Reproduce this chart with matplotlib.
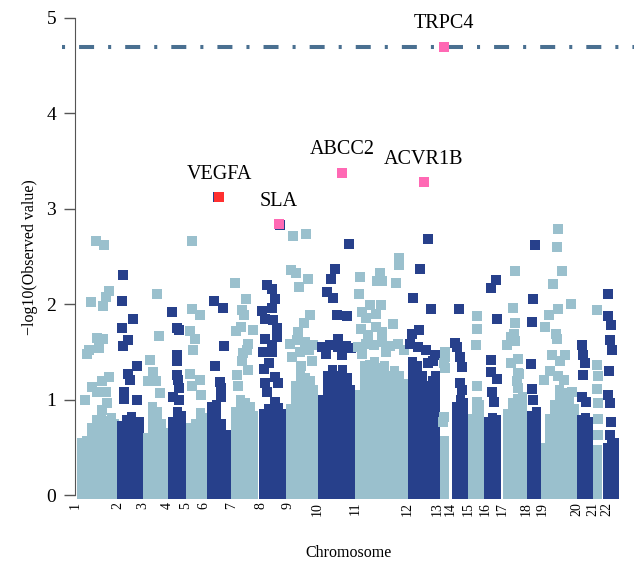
# Manhattan plot, -log10(p) por cromosoma
import numpy as np
import matplotlib
matplotlib.use('Agg')
import matplotlib.pyplot as plt

plt.rcParams['font.family'] = ['Liberation Serif', 'DejaVu Serif']
plt.rcParams['lines.scale_dashes'] = False

chroms = [str(i) for i in range(1, 23)]
chrom_start = [0, 43, 68, 92, 111, 129, 157, 186, 213, 242, 280,
               332, 362, 375, 393, 410, 427, 451, 467, 502, 518, 532]

# SNPs sueltos: posicion dentro del cromosoma y -log10(p)
snp_pos = [
    [21, 29, 34, 31, 16, 28, 22, 28, 24, 14, 12, 34, 27, 17, 22, 31, 10, 32, 27],
    [5, 4, 15, 4, 10, 5, 19, 10, 12, 6, 6, 19],
    [14, 16, 7, 10, 13, 17, 5],
    [5, 10, 12, 10, 10, 10, 11, 12, 6, 12],
    [6, 6, 14, 4, 9, 7, 4, 14, 6, 15],
    [14, 10, 19, 20, 11, 16, 17, 17],
    [3, 14, 10, 12, 4, 9, 21, 16, 15, 11, 10, 16, 5, 6],
    [19, 6, 11, 14, 1, 11, 4, 12, 16, 16, 4, 11, 2, 11, 8, 3, 14, 4, 17, 6, 14],
    [5, 18, 3, 8, 20, 11, 22, 16, 10, 2, 9, 17, 25, 12, 21, 4, 24, 13],
    [18, 14, 10, 16, 20, 32, 30, 21, 5, 13, 21, 29, 34, 9, 25],
    [44, 44, 5, 25, 22, 27, 41, 4, 15, 26, 7, 11, 21, 38, 6, 21, 27, 13,
     3, 11, 19, 27, 35, 43, 49, 7, 31],
    [21, 13, 6, 24, 5, 12, 28, 21, 3, 11, 19, 26],
    [8, 8, 7, 8, 7, 6],
    [9, 7, 10, 12, 10, 12, 5],
    [9, 9, 8, 9, 9],
    [11, 6, 12, 6, 6, 12, 7, 9],
    [13, 11, 13, 12, 9, 5, 13, 16, 9, 17, 15, 16, 16],
    [9, 7, 6, 5, 6, 7],
    [16, 15, 20, 11, 29, 16, 7, 3, 14, 15, 10, 23, 2, 16, 22, 30, 18, 8],
    [5, 6, 8, 6, 5, 9],
    [4, 4, 5, 4, 5, 5, 5],
    [1, 1, 4, 3, 5, 2, 1, 3, 4, 3],
]
snp_logp = [
    [2.66, 2.62, 2.14, 2.08, 2.02, 1.98, 1.65, 1.64, 1.54, 1.52, 1.48, 1.24, 1.20, 1.13, 1.08, 1.08, 1.00, 0.96, 0.89],
    [2.31, 2.03, 1.84, 1.75, 1.62, 1.56, 1.35, 1.27, 1.21, 1.08, 1.01, 1.00],
    [2.11, 1.67, 1.42, 1.29, 1.20, 1.07, 1.20],
    [1.92, 1.75, 1.73, 1.47, 1.40, 1.26, 1.21, 1.12, 1.03, 1.00],
    [2.66, 1.95, 1.89, 1.72, 1.64, 1.52, 1.27, 1.21, 1.14, 1.05],
    [3.12, 2.03, 1.96, 1.56, 1.35, 1.18, 1.12, 1.03],
    [2.22, 2.05, 1.94, 1.89, 1.72, 1.76, 1.73, 1.58, 1.52, 1.49, 1.40, 1.31, 1.26, 1.14],
    [2.83, 2.20, 2.16, 2.05, 1.93, 1.96, 1.84, 1.83, 1.75, 1.66, 1.64, 1.57, 1.50, 1.50, 1.38, 1.32, 1.24, 1.17, 1.17, 1.08, 0.98],
    [2.71, 2.74, 2.36, 2.33, 2.26, 2.18, 1.89, 1.80, 1.71, 1.58, 1.62, 1.60, 1.57, 1.50, 1.52, 1.45, 1.40, 1.35],
    [2.37, 2.26, 2.13, 2.07, 1.89, 2.63, 1.88, 1.64, 1.55, 1.57, 1.55, 1.56, 1.54, 1.48, 1.47],
    [2.48, 2.41, 2.28, 2.33, 2.24, 2.24, 2.22, 2.11, 1.99, 1.99, 1.92, 1.86, 1.90, 1.79, 1.74, 1.76, 1.71, 1.68,
     1.55, 1.58, 1.57, 1.60, 1.56, 1.58, 1.52, 1.48, 1.50],
    [2.68, 2.37, 2.06, 1.95, 1.69, 1.73, 1.47, 1.38, 1.58, 1.55, 1.52, 1.40],
    [1.50, 1.45, 1.38, 1.33, 0.82, 0.77],
    [1.95, 1.55, 1.45, 1.34, 1.17, 1.10, 1.59],
    [1.88, 1.74, 1.57, 1.14, 0.98],
    [2.25, 2.17, 1.85, 1.41, 1.29, 1.22, 1.08, 0.98],
    [2.35, 1.96, 1.80, 1.69, 1.66, 1.57, 1.61, 1.43, 1.38, 1.27, 1.19, 1.12, 1.28],
    [2.62, 2.05, 1.81, 1.37, 1.11, 1.00],
    [2.79, 2.60, 2.35, 2.21, 2.00, 1.95, 1.89, 1.76, 1.69, 1.64, 1.47, 1.47, 1.21, 1.25, 1.21, 1.08, 1.40, 1.30],
    [1.57, 1.47, 1.38, 1.26, 1.03, 0.98],
    [1.94, 1.36, 1.25, 1.11, 0.96, 0.80, 0.63],
    [2.11, 1.88, 1.78, 1.62, 1.52, 1.30, 1.05, 0.96, 0.77, 0.63],
]

# zona densa (SNPs solapados): columnas y altura del borde superior
bulk_pos = [[6, 11, 16, 21, 26, 31, 36, 39], [3, 8, 13, 18, 21], [4, 9, 14, 18, 20],
            [5, 10, 14], [4, 9, 14, 18], [7, 12, 17, 22], [3, 8, 13, 18, 21],
            [2, 7, 12, 17, 20], [2, 7, 12, 17, 22, 25], [5, 10, 15, 20, 25, 30, 33],
            [4, 9, 14, 19, 24, 29, 34, 39, 44, 49], [5, 10, 15, 20, 25, 28],
            [7], [6, 10, 13], [4, 8, 11], [3, 7, 11], [5, 10, 15, 20], [5, 10],
            [3, 7, 12, 17, 22, 27, 32], [4, 8, 11], [4], [0, 4, 7]]
bulk_top = [[0.60, 0.62, 0.75, 0.84, 0.86, 0.83, 0.86, 0.80],
            [0.78, 0.84, 0.87, 0.80, 0.82],
            [0.65, 0.97, 0.92, 0.80, 0.70],
            [0.82, 0.92, 0.88],
            [0.75, 0.80, 0.91, 0.86],
            [0.98, 1.00, 0.80, 0.68],
            [0.92, 1.05, 1.02, 0.98, 0.88],
            [0.90, 0.95, 0.92, 0.96, 0.90],
            [0.95, 1.20, 1.30, 1.28, 1.25, 1.15],
            [1.05, 1.30, 1.36, 1.30, 1.36, 1.28, 1.15],
            [1.10, 1.40, 1.42, 1.45, 1.38, 1.40, 1.30, 1.35, 1.30, 1.22],
            [1.45, 1.40, 1.30, 1.20, 1.25, 1.30],
            [0.62],
            [0.98, 1.05, 1.02],
            [0.85, 0.95, 1.00],
            [0.82, 0.86, 0.84],
            [0.90, 1.02, 1.06, 1.08],
            [0.88, 0.92],
            [0.55, 0.85, 1.00, 1.15, 1.12, 1.10, 0.95],
            [0.84, 0.86, 0.82],
            [0.52],
            [0.55, 0.58, 0.60]]

# genes destacados
hit_gene = ['VEGFA', 'SLA', 'ABCC2', 'ACVR1B', 'TRPC4']
hit_chr = [6, 8, 10, 12, 13]
hit_pos = [15, 18, 25, 17, 7]
hit_logp = [3.12, 2.84, 3.38, 3.28, 4.70]
hit_color = ['#FF3030', '#FF69B4', '#FF69B4', '#FF69B4', '#FF69B4']

threshold = 4.70

light, dark = '#9AC0CD', '#27408B'
msize = 42   # cuadrado de ~9 px

fig = plt.figure(figsize=(6.34, 5.73), dpi=100)
ax = fig.add_axes([62/634, 78/573, 572/634, 477/573])

for i in range(22):
    col = light if i % 2 == 0 else dark
    x0 = chrom_start[i]
    bx = x0 + np.array(bulk_pos[i])
    bt = np.array(bulk_top[i])
    ax.bar(bx, bt + 0.047, bottom=-0.047, width=9, color=col, linewidth=0,
           zorder=1, clip_on=False)
    ax.scatter(x0 + np.array(snp_pos[i]), snp_logp[i], s=msize, marker='s',
               color=col, linewidths=0, zorder=2, clip_on=False)

ax.axhline(threshold, color='#4A7091', lw=2.9, dashes=(2.2, 10.1, 10.8, 10.1),
           zorder=2.5)

for g, c, p, v, colr in zip(hit_gene, hit_chr, hit_pos, hit_logp, hit_color):
    x = chrom_start[c - 1] + p
    ax.scatter([x], [v], s=msize, marker='s', color=colr, linewidths=0,
               zorder=3, clip_on=False)
    ax.annotate(g, (x, v), xytext=(0, 16.5), textcoords='offset points',
                ha='center', va='center', fontsize=14.5)

ax.set_xlim(-13, 559)
ax.set_ylim(0, 5)

for s in ['top', 'right', 'bottom']:
    ax.spines[s].set_visible(False)
ax.spines['left'].set_position(('data', 0))
ax.spines['left'].set_bounds(0, 5)
ax.spines['left'].set_color('#555555')

ax.set_yticks([0, 1, 2, 3, 4, 5])
ax.tick_params(axis='y', length=8, width=1, color='#555555', pad=5.5,
               labelsize=14)
ax.set_xticks(chrom_start)
ax.set_xticklabels(chroms, rotation=90, fontsize=10)
ax.tick_params(axis='x', length=0, pad=5)

fig.text(30/634, 1 - 257/573, '\u2212log10(Observed value)', rotation=90,
         ha='center', va='center', fontsize=11.5)
fig.text(348/634, 1 - 553/573, 'Chromosome', ha='center', va='center',
         fontsize=11.5)

fig.savefig('out.png', dpi=100)
